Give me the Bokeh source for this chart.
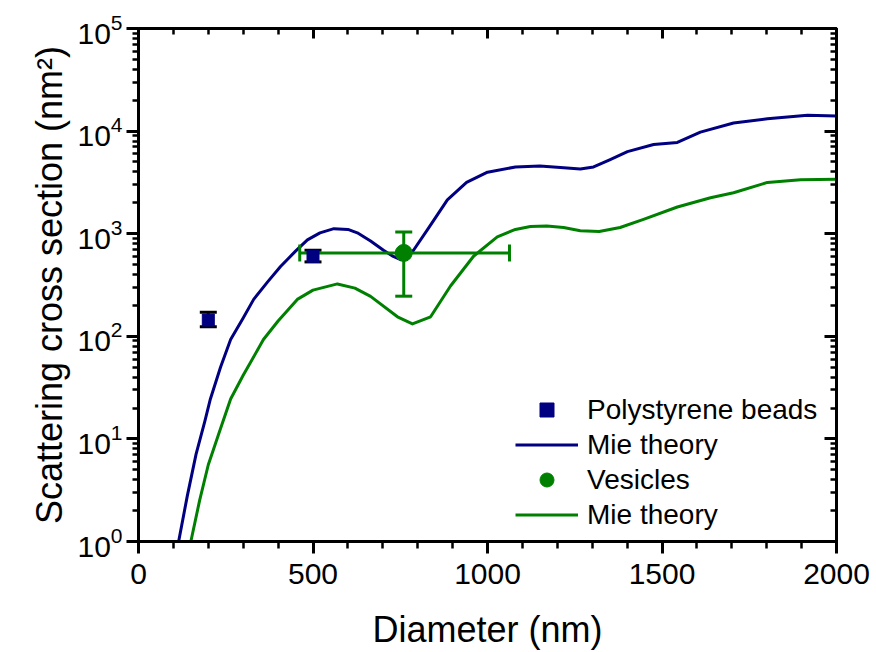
from bokeh.plotting import figure
from bokeh.models import (Range1d, LinearAxis, LogAxis, FixedTicker, Whisker, TeeHead,
                          ColumnDataSource, Legend, LegendItem, CustomJSTickFormatter)
from bokeh.embed import file_html
from bokeh.resources import INLINE

FONT = "Liberation Sans"
NAVY = "#000080"
GREEN = "#008000"

# ---- data ----
bead_d = [200, 500]
bead_sigma = [144, 602]
bead_low = [124, 531]
bead_high = [172, 689]

ves_d = [760]
ves_sigma = [649]
ves_low = [246]
ves_high = [1040]
ves_d_low = [462]
ves_d_high = [1063]

mie_bead_d = [105, 115, 140, 165, 190, 206, 235, 264, 300, 330, 370, 407, 450, 484, 520,
              560, 600, 627, 665, 702, 730, 751, 770, 788, 830, 885, 940, 1000, 1080, 1150,
              1209, 1266, 1304, 1350, 1401, 1476, 1544, 1610, 1705, 1802, 1917, 2000]
mie_bead_sigma = [0.63, 1.0, 2.8, 7.1, 14.8, 24.5, 50, 93, 151, 229, 339, 479, 676, 871, 1020,
                  1120, 1100, 1020, 850, 690, 600, 560, 590, 690, 1120, 2140, 3160, 3980, 4470, 4570,
                  4420, 4270, 4470, 5250, 6310, 7410, 7760, 9770, 12000, 13200, 14300, 14000]

mie_ves_d = [140, 150, 175, 200, 230, 264, 300, 358, 400, 455, 500, 570, 620, 665, 742, 785,
             837, 894, 960, 1028, 1080, 1123, 1170, 1218, 1266, 1320, 1380, 1447, 1544, 1639,
             1705, 1802, 1897, 2000]
mie_ves_sigma = [0.63, 1.0, 2.5, 5.6, 11.2, 24.5, 41.7, 93, 141, 229, 282, 324, 295, 245, 155, 132,
                 155, 309, 603, 933, 1100, 1175, 1190, 1150, 1070, 1050, 1150, 1380, 1820, 2240,
                 2510, 3160, 3350, 3390]

x_ticks = [0, 500, 1000, 1500, 2000]
x_minor = list(range(0, 2001, 100))
y_ticks = [1, 10, 100, 1000, 10000, 100000]
y_minor = [m * 10 ** k for k in range(5) for m in range(2, 10)]

# ---- figure ----
p = figure(width=876, height=652, x_range=Range1d(0, 2000), y_range=Range1d(1, 1e5),
           y_axis_type="log", output_backend="svg", toolbar_location=None,
           min_border_left=138, min_border_right=40, min_border_top=28, min_border_bottom=109,
           background_fill_color="white", border_fill_color="white")
p.grid.visible = False
p.outline_line_color = "black"
p.outline_line_width = 3

def style_axis(ax, labels=True):
    ax.axis_line_width = 3
    ax.axis_line_color = "black"
    ax.major_tick_line_width = 3
    ax.minor_tick_line_width = 2.5
    ax.major_tick_line_color = "black"
    ax.minor_tick_line_color = "black"
    ax.major_label_text_font = FONT
    ax.major_label_text_font_size = "30px" if labels else "1px"
    ax.major_label_text_color = "black"
    ax.axis_label_text_font = FONT
    ax.axis_label_text_font_size = "36px"
    ax.axis_label_text_font_style = "normal"
    ax.axis_label_text_color = "black"

xa = p.xaxis[0]
style_axis(xa)
xa.ticker = FixedTicker(ticks=x_ticks, minor_ticks=x_minor)
xa.major_tick_out = 12
xa.major_tick_in = 0
xa.minor_tick_out = 7
xa.minor_tick_in = 0
xa.major_label_standoff = 10
xa.axis_label = "Diameter (nm)"
xa.axis_label_standoff = 22

ya = p.yaxis[0]
style_axis(ya)
ya.ticker = FixedTicker(ticks=y_ticks, minor_ticks=y_minor)
ya.major_tick_out = 12
ya.major_tick_in = 0
ya.minor_tick_out = 6
ya.minor_tick_in = 0
ya.major_label_standoff = 4
ya.axis_label = "Scattering cross section (nm²)"
ya.axis_label_standoff = 4

blank = CustomJSTickFormatter(code="return ''")

top = LinearAxis(ticker=FixedTicker(ticks=x_ticks, minor_ticks=x_minor), formatter=blank)
style_axis(top, labels=False)
top.major_tick_in = 10
top.major_tick_out = 0
top.minor_tick_in = 6
top.minor_tick_out = 0
top.major_label_standoff = 0
p.add_layout(top, "above")

right = LogAxis(ticker=FixedTicker(ticks=y_ticks, minor_ticks=y_minor), formatter=blank)
style_axis(right, labels=False)
right.major_tick_in = 12
right.major_tick_out = 0
right.minor_tick_in = 6
right.minor_tick_out = 0
right.major_label_standoff = 0
p.add_layout(right, "right")

# ---- curves ----
r_mb = p.line(mie_bead_d, mie_bead_sigma, line_color=NAVY, line_width=3, line_join="round")
r_mv = p.line(mie_ves_d, mie_ves_sigma, line_color=GREEN, line_width=3, line_join="round")

# ---- error bars ----
src_b = ColumnDataSource(dict(x=bead_d, y=bead_sigma, lo=bead_low, hi=bead_high))
src_v = ColumnDataSource(dict(x=ves_d, y=ves_sigma, lo=ves_low, hi=ves_high,
                              xlo=ves_d_low, xhi=ves_d_high))

def tee(color):
    return TeeHead(size=17, line_color=color, line_width=3)

wb = Whisker(source=src_b, base="x", lower="lo", upper="hi", dimension="height",
             line_color="black", line_width=3, upper_head=tee("black"), lower_head=tee("black"),
             level="annotation")
wv = Whisker(source=src_v, base="x", lower="lo", upper="hi", dimension="height",
             line_color=GREEN, line_width=3, upper_head=tee(GREEN), lower_head=tee(GREEN),
             level="annotation")
wh = Whisker(source=src_v, base="y", lower="xlo", upper="xhi", dimension="width",
             line_color=GREEN, line_width=3, upper_head=tee(GREEN), lower_head=tee(GREEN),
             level="annotation")
p.add_layout(wb)
p.add_layout(wv)
p.add_layout(wh)

r_bead = p.scatter("x", "y", source=src_b, marker="square", size=12, fill_color=NAVY,
                   line_color=NAVY, level="overlay")
r_ves = p.scatter("x", "y", source=src_v, marker="circle", size=17, fill_color=GREEN,
                  line_color=GREEN, level="overlay")

# ---- legend ----
legend = Legend(items=[
    LegendItem(label="Polystyrene beads", renderers=[r_bead]),
    LegendItem(label="Mie theory", renderers=[r_mb]),
    LegendItem(label="Vesicles", renderers=[r_ves]),
    LegendItem(label="Mie theory", renderers=[r_mv]),
], location=(377, 9))
legend.label_text_font = FONT
legend.label_text_font_size = "28px"
legend.label_text_color = "black"
legend.glyph_width = 63
legend.glyph_height = 35
legend.label_height = 35
legend.spacing = 0
legend.padding = 0
legend.margin = 0
legend.label_standoff = 9
legend.border_line_color = None
legend.background_fill_alpha = 0
p.add_layout(legend)

open("out.html", "w").write(file_html(p, INLINE))
